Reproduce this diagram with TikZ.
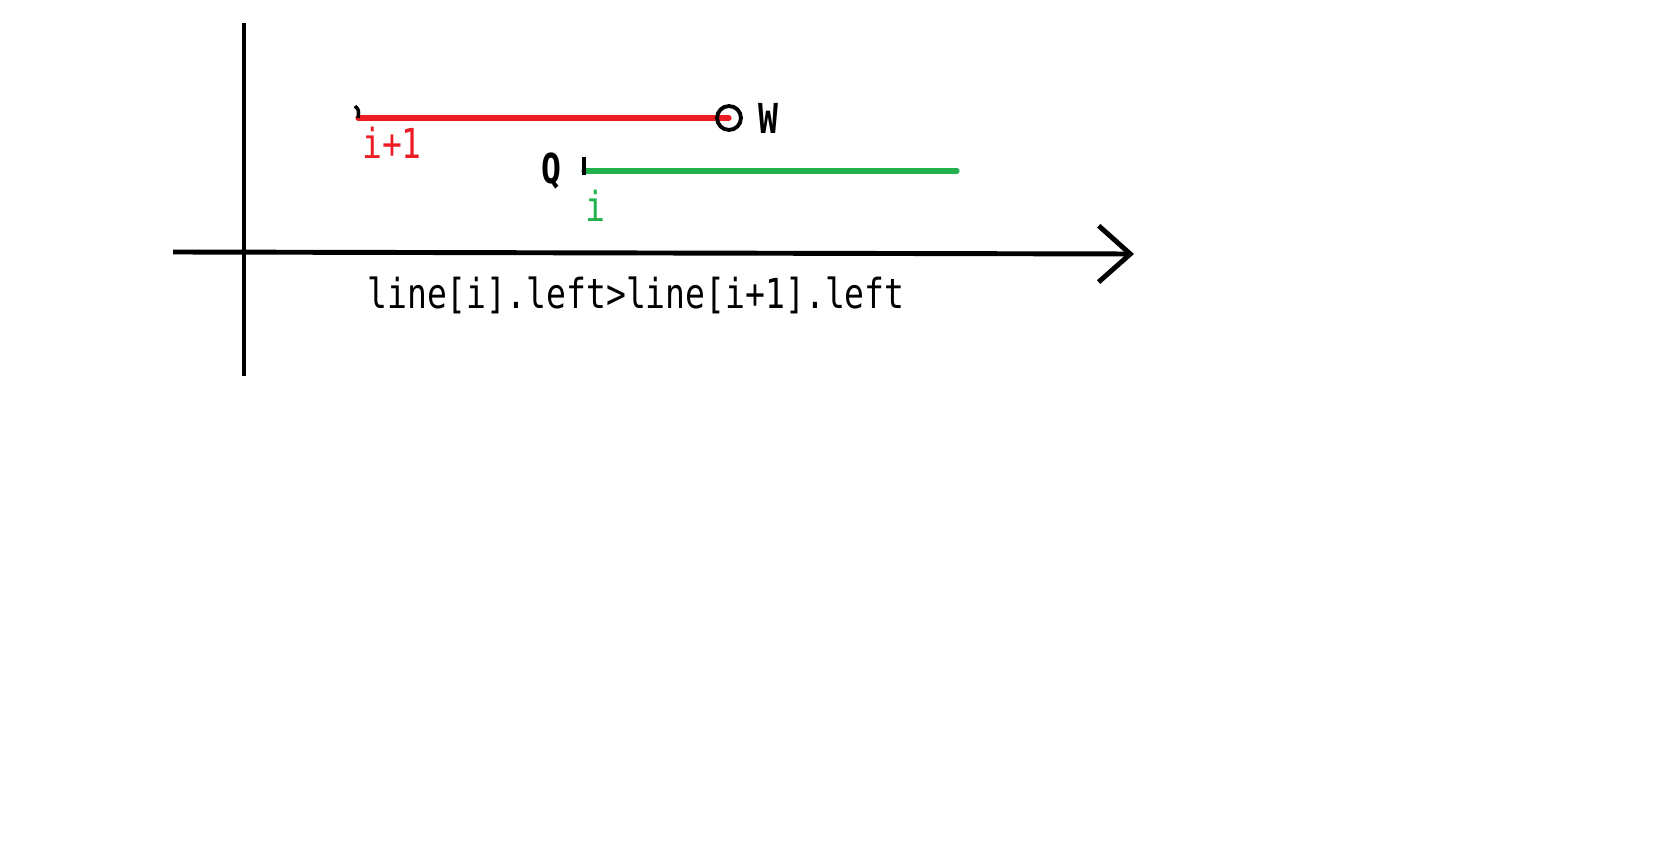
\documentclass[tikz,border=0pt]{standalone}
\usepackage{fontspec}
\setmonofont{DejaVu Sans Mono}
\usetikzlibrary{positioning,arrows.meta}
\definecolor{segred}{HTML}{ED1C24}
\definecolor{seggreen}{HTML}{22B14C}

\begin{document}
\begin{tikzpicture}[x=0.01cm,y=-0.01cm,
  axis/.style={line width=1.4pt,black},
  seg/.style={line width=1.5pt,line cap=round},
  tick/.style={line width=1pt,black},
  lbl/.style={font=\fontsize{9.4}{11}\selectfont\ttfamily,inner sep=0pt,yscale=1.25}]
\useasboundingbox (0,0) rectangle (1673,852);
% axes
\coordinate (yb) at (244,376);
\coordinate (yt) at (244,23);
\coordinate (xl) at (173,252);
\coordinate (xr) at (1134,254);
\draw[axis] (yb) -- (yt);
\draw[axis,-{Straight Barb[length=9pt,width=16pt]}] (xl) -- (xr);
% segment i+1
\coordinate (r0) at (358,118);
\coordinate (r1) at (729,118);
\draw[seg,segred] (r0) -- (r1);
\draw[tick] (355,106) .. controls (359,110) .. (r0);
\node[circle,draw,line width=1.1pt,minimum size=6.8pt,inner sep=0pt] (rend) at (r1) {};
\node[lbl,segred] (lab1) at (392,143) {i+1};
\node[lbl,right=0.15cm of rend,font=\fontsize{9.4}{11}\selectfont\ttfamily\bfseries] (w) {W};
% segment i
\coordinate (g0) at (584,171);
\coordinate (g1) at (957,171);
\draw[seg,seggreen] (g0) -- (g1);
\coordinate (gt) at (584,157);
\draw[tick] (gt) -- (g0 |- 0,175);
\node[lbl,left=0.22cm of g0,font=\fontsize{9.4}{11}\selectfont\ttfamily\bfseries] (q) {Q};
\node[lbl,seggreen] (lab0) at (595,206) {i};
% condition
\node[lbl] (cond) at (636,295) {line[i].left>line[i+1].left};
\end{tikzpicture}
\end{document}
